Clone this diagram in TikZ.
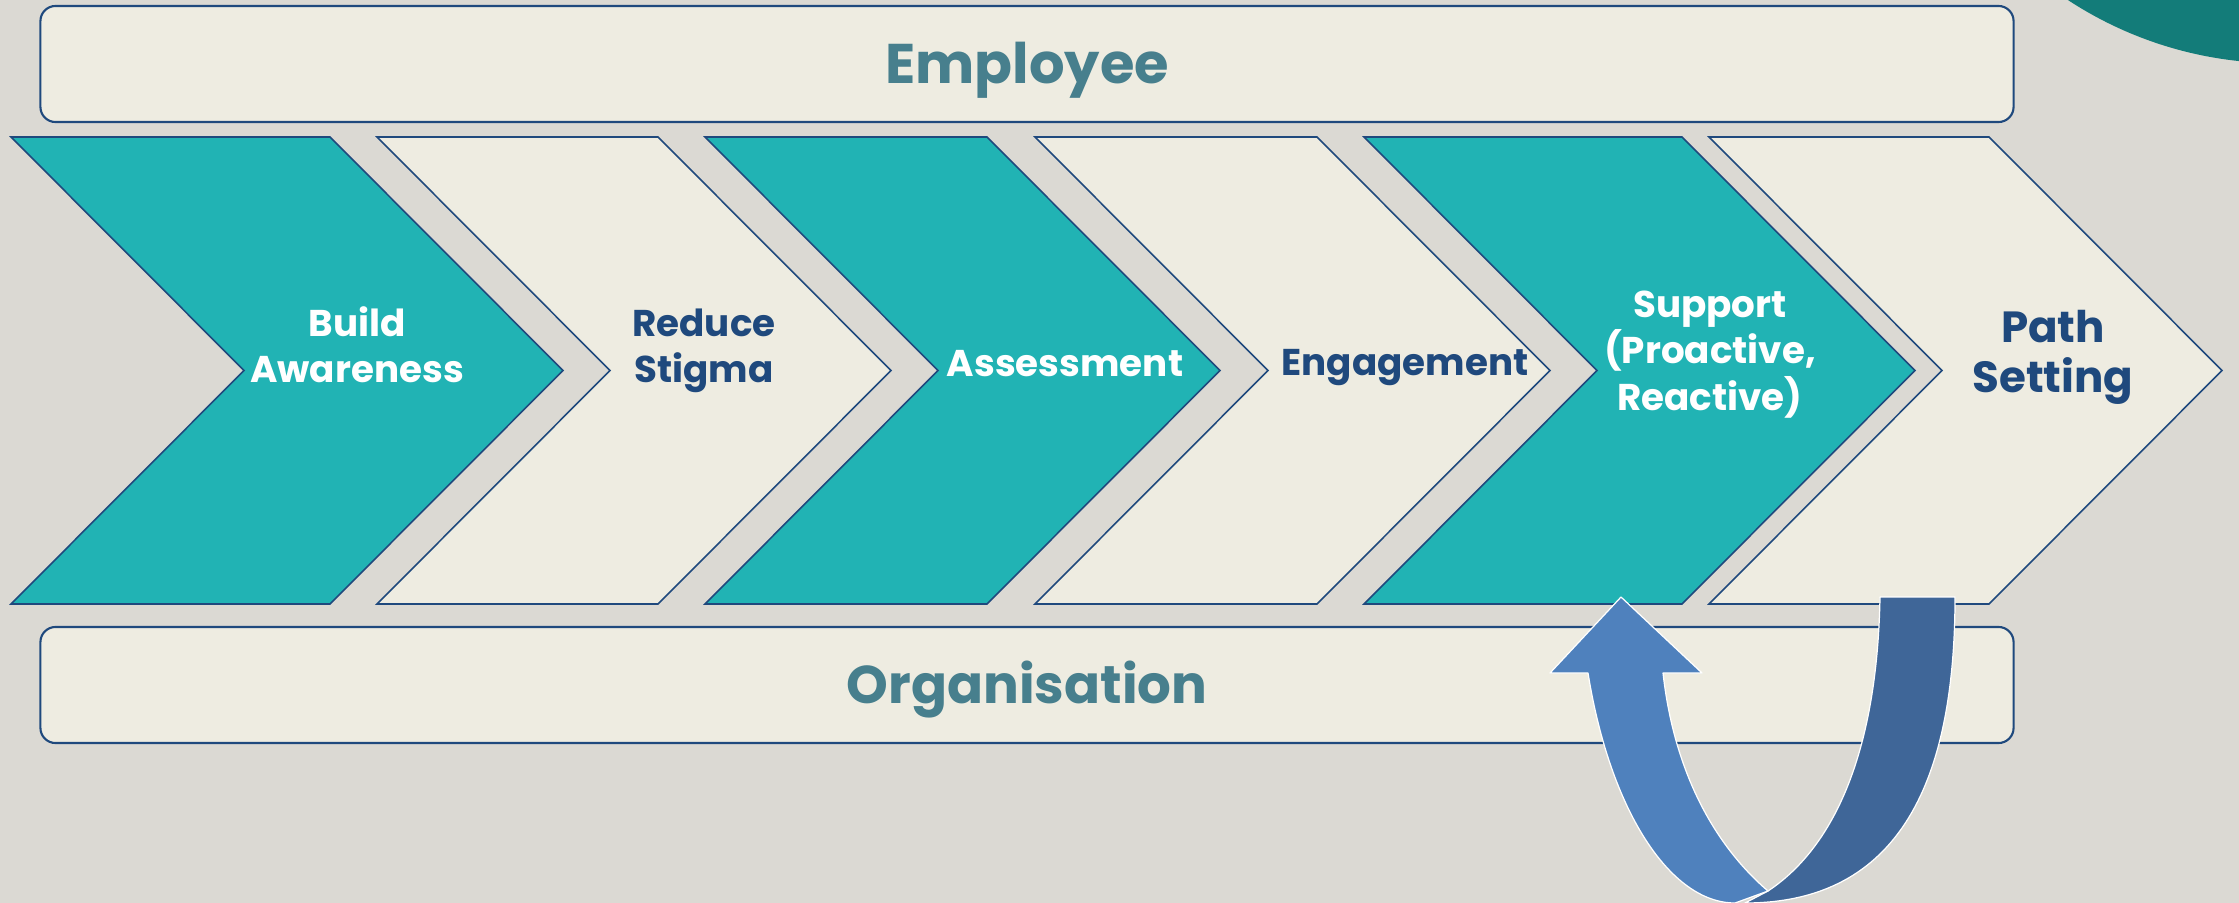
\documentclass[tikz,border=0pt]{standalone}
\usepackage{fontspec}
\setmainfont{Poppins}
\usetikzlibrary{positioning}

\definecolor{pagebg}{HTML}{DBD9D3}
\definecolor{cream}{HTML}{EEECE1}
\definecolor{tealfill}{HTML}{21B3B4}
\definecolor{deepteal}{HTML}{137C79}
\definecolor{navy}{HTML}{1F497D}
\definecolor{labelteal}{HTML}{477F8D}
\definecolor{arrowlight}{HTML}{4F81BD}
\definecolor{arrowdark}{HTML}{3F6698}

\tikzset{
  band/.style={draw=navy, line width=0.6pt, fill=cream, rounded corners=4.3pt,
    minimum width=19.72cm, minimum height=1.16cm, text=labelteal, text depth=0pt},
  chev/.style={draw=navy, line width=0.45pt},
  steplabel/.style={font=\fontsize{10.6}{13}\selectfont\bfseries, align=center,
    anchor=base, inner sep=0pt},
  uturn/.style={draw=white, line width=0.35pt, line join=round}
}

\begin{document}
\begin{tikzpicture}[x=0.01cm, y=-0.01cm]
    % page and corner disc
    \fill[pagebg] (0,0) rectangle (2239,903);
    \useasboundingbox (0,0) rectangle (2239,903);
    \clip (0,0) rectangle (2239,903);
    \fill[deepteal] (2280,-324) circle[radius=3.87cm];

    % the two bands
    \node[band, text height=11.1pt,
      font=\fontsize{15.9}{19}\selectfont\bfseries] (employee) at (1027,64) {Employee};
    \node[band, text height=10.4pt,
      font=\fontsize{15.1}{18}\selectfont\bfseries] (organisation) at (1027,685) {Organisation};

    % chevrons: left edge / right edge / fill
    \foreach \l/\r/\col in {11/330/tealfill, 377/658/cream, 705/987/tealfill,
                           1035/1317/cream, 1364/1682/tealfill, 1709/1989/cream}
      \filldraw[chev, fill=\col] (\l,137) -- (\r,137) -- (\r+233,370.5)
        -- (\r,604) -- (\l,604) -- (\l+233,370.5) -- cycle;

    % step labels (base = last line)
    \node[steplabel, text=white] (awareness) at (357,382) {Build\\Awareness};
    \node[steplabel, text=navy] (stigma) at (704,382) {Reduce\\Stigma};
    \node[steplabel, text=white] (assessment) at (1065,376) {Assessment};
    \node[steplabel, text=navy] (engagement) at (1405,375) {Engagement};
    \node[steplabel, text=white, font=\fontsize{10.6}{13.2}\selectfont\bfseries]
      (support) at (1710,410) {Support\\(Proactive,\\Reactive)};
    \node[steplabel, text=navy, font=\fontsize{12.4}{14.2}\selectfont\bfseries]
      (pathsetting) at (2053,392) {Path\\Setting};

    % curved return arrow
    \filldraw[uturn, fill=arrowdark] (1745,903) .. controls (1900,903) and (1955,780) .. (1955,597)
      -- (1880,597) .. controls (1877,760) and (1830,850) .. (1768,891) -- cycle;
    \filldraw[uturn, fill=arrowlight] (1588,673) .. controls (1610,810) and (1670,903) .. (1735,903)
      -- (1768,891) .. controls (1720,850) and (1675,780) .. (1663,673)
      -- (1702,673) -- (1621,597) -- (1550,673) -- cycle;
\end{tikzpicture}
\end{document}
